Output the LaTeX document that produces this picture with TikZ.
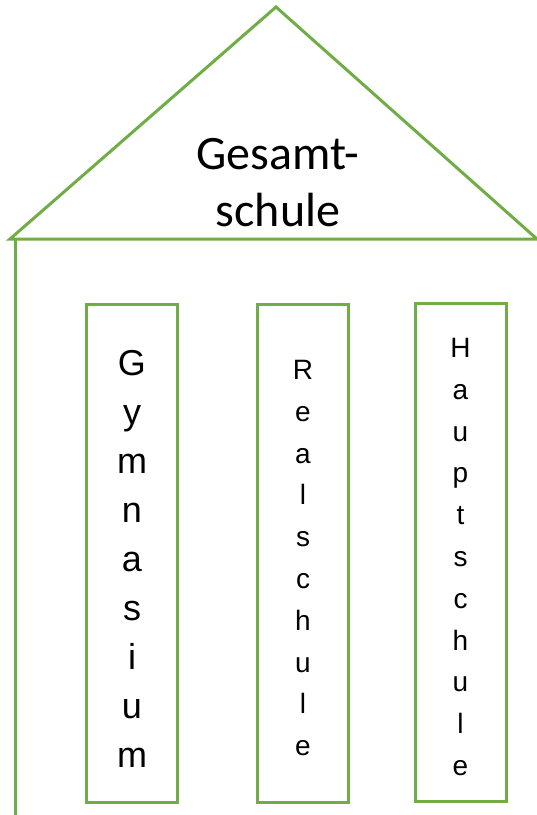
\documentclass[tikz,border=0pt]{standalone}
\usepackage{fontspec}
\setmainfont{Liberation Sans}
\newfontfamily\roofFont{Carlito}
\usepackage{xcolor}
\usepackage{tikz}
\definecolor{officegreen}{RGB}{112,173,71}

\begin{document}
\begin{tikzpicture}[x=1pt,y=-1pt,
	wall/.style={draw=officegreen,line width=3pt},
	column/.style={wall,rectangle,inner sep=0pt,minimum width=91pt,minimum height=498pt},
	bigletters/.style={align=center,yshift=-6pt,font=\fontsize{36}{49}\selectfont},
	smallletters/.style={align=center,yshift=-5pt,font=\fontsize{28}{41.8}\selectfont}]
			\useasboundingbox (0,0) rectangle (537,815);
			
			\coordinate (eaveleft) at (10,239);
			\coordinate (apex) at (276,7);
			\coordinate (eaveright) at (537,239);
			\coordinate (wallbottom) at (15,815);
			
			\draw[wall,line join=miter] (eaveleft) -- (apex) -- (eaveright) -- cycle;
			\draw[wall] (eaveleft -| wallbottom) -- (wallbottom);
			
			\node[align=center,font=\roofFont\fontsize{48}{57}\selectfont] (gesamtschule) at (278,183) {Gesamt-\\schule};
			
			\node[column,label={[bigletters]center:G\\y\\m\\n\\a\\s\\i\\u\\m}] (gymnasium) at (132,553) {};
			\node[column,label={[smallletters]center:R\\e\\a\\l\\s\\c\\h\\u\\l\\e}] (realschule) at (303,553) {};
			\node[column,label={[smallletters]center:H\\a\\u\\p\\t\\s\\c\\h\\u\\l\\e}] (hauptschule) at (460.5,552) {};
\end{tikzpicture}
\end{document}
